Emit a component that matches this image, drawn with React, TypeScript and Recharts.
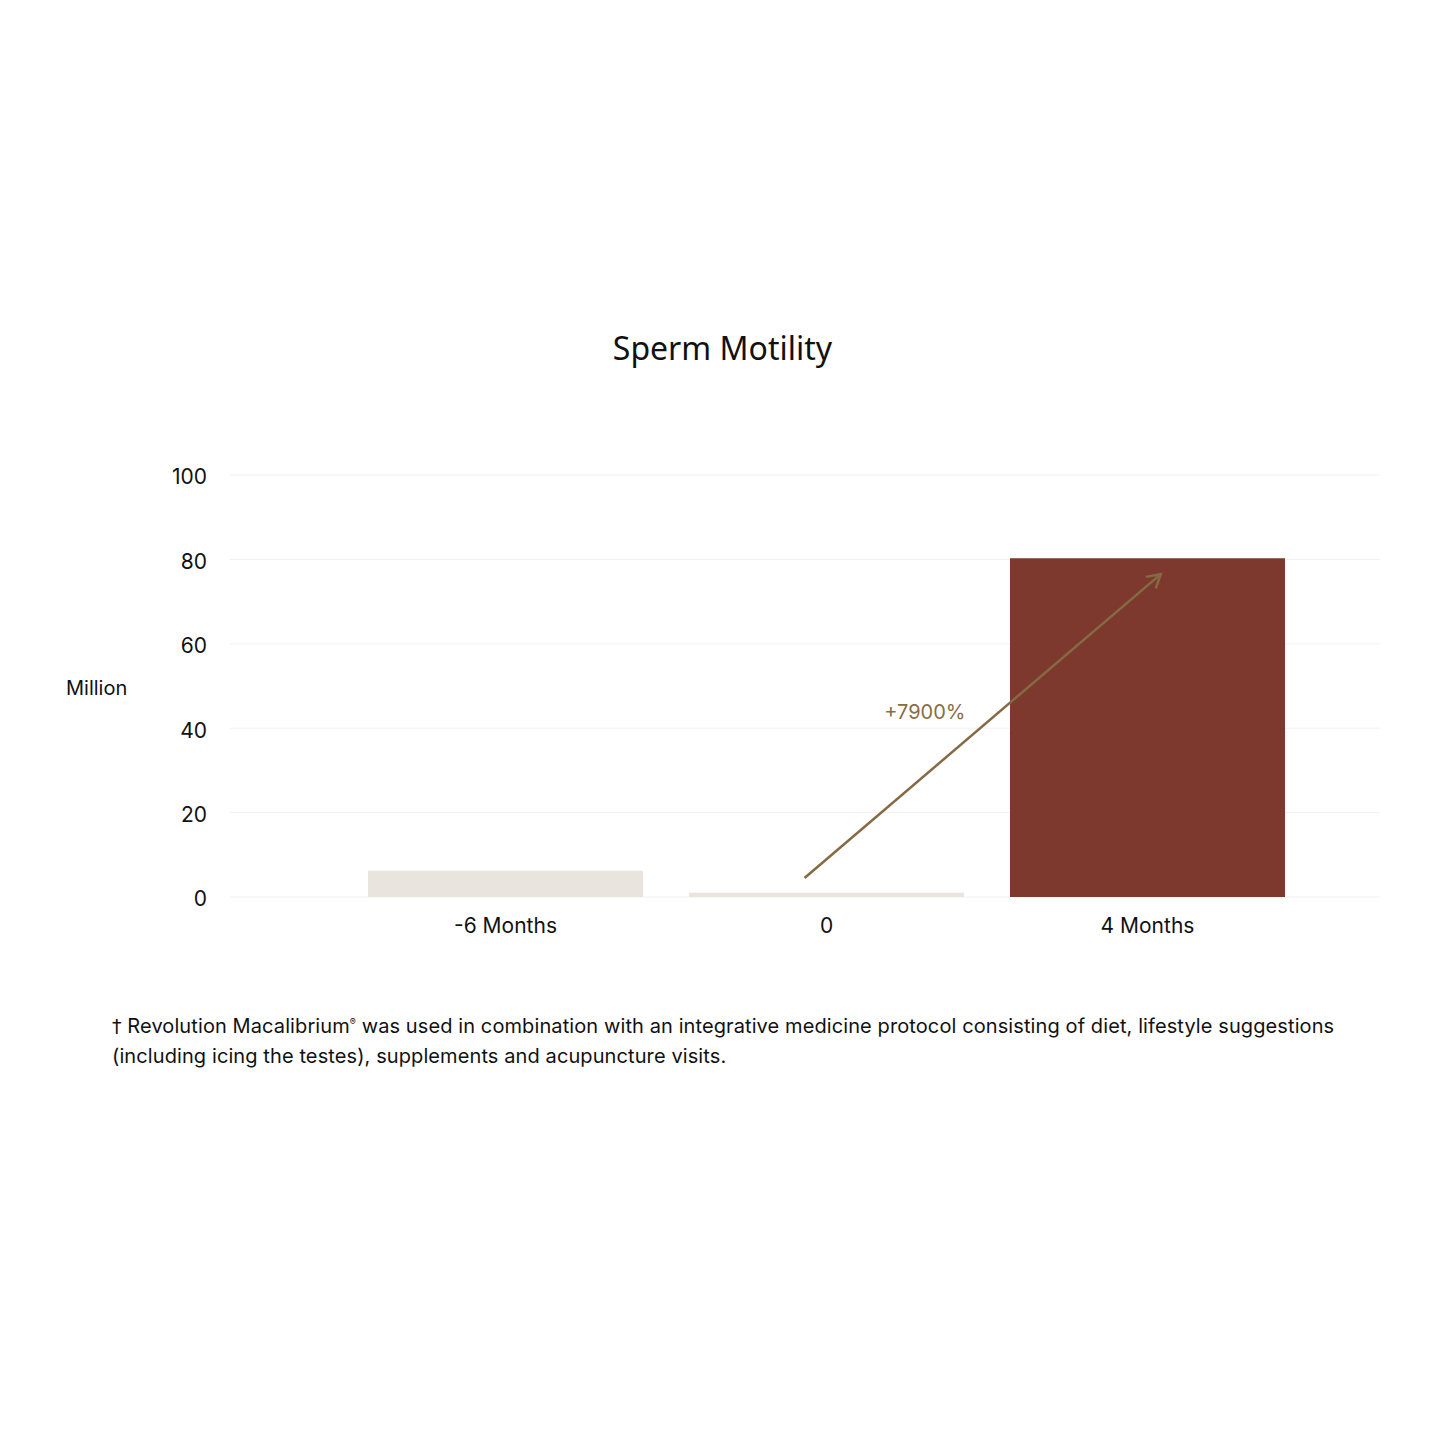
import React from 'react';
import { BarChart, Bar, XAxis, YAxis, CartesianGrid, ReferenceLine, ReferenceDot, Cell } from 'recharts';

const categories = ['-6 Months', '0', '4 Months'];
const motility = [6.2, 1, 80.3];
const barColors = ['#e9e4dd', '#e9e4dd', '#7d392e'];
const yTicks = [0, 20, 40, 60, 80, 100];
// continuous category-index scale (category i centred at i + 1)
const categoryIndex = [1, 2, 3];
const indexDomain = [0.14, 3.723];
const arrowStart = { x: 1.93, y: 4.5 };
const arrowEnd = { x: 3.04, y: 76.5 };
const changeLabel = '+7900%';
const labelPos = { x: 2.305, y: 43.8 };

const data = categories.map((c, i) => ({ name: c, value: motility[i], idx: categoryIndex[i] }));

const FONT = 'Inter, "Noto Sans", sans-serif';
const ARROW = '#866a44';

const ArrowShape = (p: any) => {
  const { x1, y1, x2, y2 } = p;
  if (x1 == null) return null;
  const ang = Math.atan2(y2 - y1, x2 - x1);
  const L = 15;
  const a1 = ang + Math.PI - Math.PI / 6;
  const a2 = ang + Math.PI + Math.PI / 6;
  return (
    <g>
      <line x1={x1} y1={y1} x2={x2} y2={y2} stroke={ARROW} strokeWidth={2.5} />
      <polyline
        points={`${x2 + L * Math.cos(a1)},${y2 + L * Math.sin(a1)} ${x2},${y2} ${x2 + L * Math.cos(a2)},${y2 + L * Math.sin(a2)}`}
        fill="none"
        stroke={ARROW}
        strokeWidth={2.5}
      />
    </g>
  );
};

const LabelShape = (p: any) => (
  <text x={p.cx} y={p.cy} textAnchor="middle" dominantBaseline="central" fill="#8a6d45" fontSize={20} fontFamily={FONT}>
    {changeLabel}
  </text>
);

export default function App() {
  return (
    <div style={{ position: 'relative', width: 1429, height: 1429, background: '#fff', fontFamily: FONT }}>
      <div style={{ position: 'absolute', left: 0, width: 1429, top: 318, textAlign: 'center', fontSize: 32, color: '#111', fontFamily: '"Noto Sans", sans-serif' }}>
        Sperm Motility
      </div>
      <div style={{ position: 'absolute', left: 58, top: 668, fontSize: 20, color: '#111' }}>Million</div>
      <div style={{ position: 'absolute', left: 0, top: 0 }}>
        <BarChart width={1429} height={1000} data={data} margin={{ top: 467, right: 57, bottom: 71, left: 162 }} barCategoryGap={23}>
          <CartesianGrid vertical={false} stroke="#f2f1ef" />
          <XAxis
            dataKey="name"
            axisLine={false}
            tickLine={false}
            padding={{ left: 115, right: 72 }}
            height={40}
            tick={{ fill: '#111', fontSize: 21, fontFamily: FONT }}
            tickMargin={15}
          />
          <XAxis
            xAxisId="arrow"
            dataKey="idx"
            type="number"
            scale="linear"
            domain={indexDomain}
            hide
            allowDataOverflow
          />
          <YAxis
            domain={[0, 100]}
            ticks={yTicks}
            axisLine={false}
            tickLine={false}
            width={60}
            tickMargin={17}
            tick={{ fill: '#111', fontSize: 21, fontFamily: FONT, dy: 2 }}
          />
          <Bar dataKey="value" isAnimationActive={false}>
            {data.map((d, i) => (
              <Cell key={d.name} fill={barColors[i]} />
            ))}
          </Bar>
          <ReferenceLine
            xAxisId="arrow"
            segment={[arrowStart, arrowEnd]}
            shape={ArrowShape}
            ifOverflow="visible"
          />
          <ReferenceDot xAxisId="arrow" x={labelPos.x} y={labelPos.y} shape={LabelShape} ifOverflow="visible" />
        </BarChart>
      </div>
      <div style={{ position: 'absolute', left: 104, top: 999, width: 1340, fontSize: 20, letterSpacing: 0.1, lineHeight: '30px', color: '#111' }}>
        <span style={{ fontFamily: '"DejaVu Sans", sans-serif', fontSize: 19 }}>†</span> Revolution Macalibrium<sup style={{ fontSize: 9 }}>®</sup> was used in combination with an integrative medicine protocol consisting of diet, lifestyle suggestions
        <br />
        (including icing the testes), supplements and acupuncture visits.
      </div>
    </div>
  );
}
